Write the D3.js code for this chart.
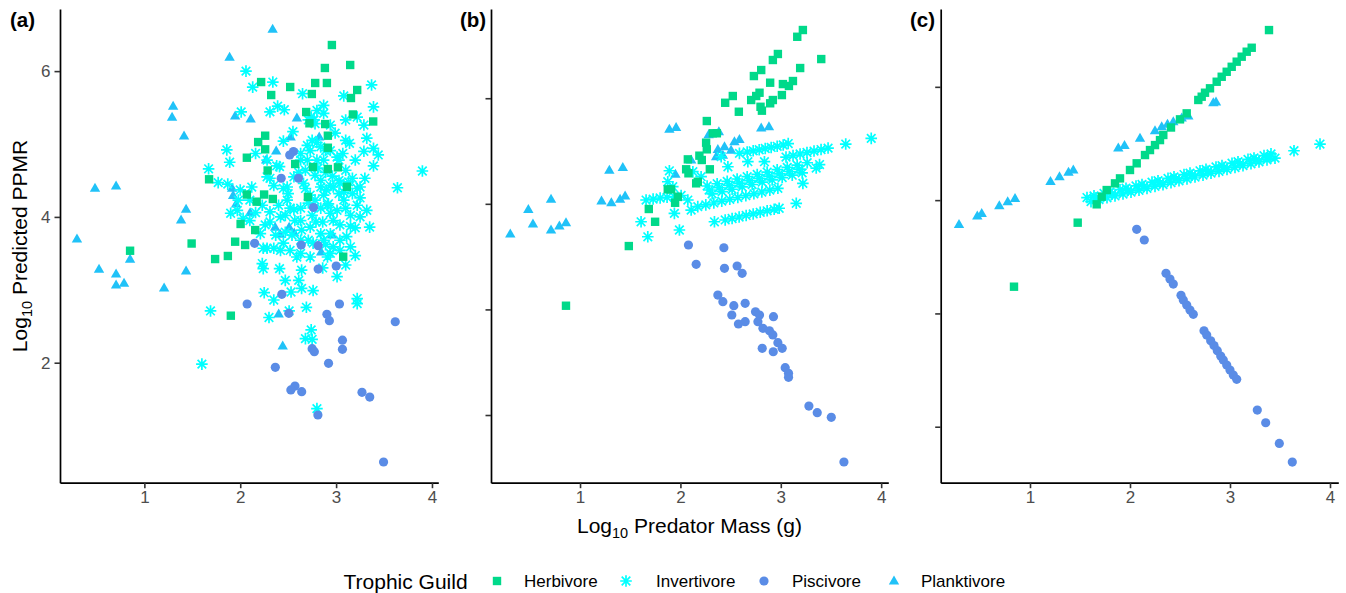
<!DOCTYPE html>
<html><head><meta charset="utf-8">
<script src="https://cdn.jsdelivr.net/npm/d3@7"></script>
<style>
body{margin:0;background:#fff;}
svg{display:block;font-family:"Liberation Sans",Arial,sans-serif;}
</style></head>
<body><svg id="chart" width="1346" height="593"></svg>
<script>
// ---------------- DATA ----------------
const guilds = ["Herbivore","Invertivore","Piscivore","Planktivore"];
const guildColors = ["#00D98A","#00FFFF","#5A8CE6","#20C2F8"];
const panelTags = ["(a)","(b)","(c)"];
const xTicks = [1,2,3,4];
const yTicksA = [2,4,6];
const yTicksBC = [1,2,3,4];

// Panel (a)
const aHerbivore = [[2.956,6.358],[2.883,6.043],[3.147,6.084],[2.218,5.850],[2.521,5.782],[2.782,5.837],[2.904,5.837],[2.323,5.672],[2.747,5.686],[3.220,5.741],[3.155,5.631],[2.688,5.439],[3.175,5.405],[3.387,5.309],[2.886,5.274],[2.722,5.284],[2.260,5.114],[2.187,5.027],[2.914,5.114],[2.260,4.927],[2.914,4.949],[2.069,4.812],[2.573,4.726],[2.286,4.637],[2.758,4.684],[2.914,4.657],[3.019,4.680],[1.675,4.516],[3.113,4.414],[2.069,4.307],[2.249,4.307],[2.340,4.246],[2.171,4.209],[2.706,4.273],[2.004,3.903],[2.156,3.820],[1.493,3.635],[1.947,3.660],[2.051,3.615],[1.738,3.422],[1.871,3.464],[3.074,3.454],[0.851,3.536],[1.902,2.645]];
const aInvertivore = [[2.06,6.00],[2.13,5.78],[2.34,5.85],[2.65,5.69],[3.08,5.66],[3.37,5.81],[2.01,5.44],[2.31,5.44],[2.39,5.52],[2.46,5.47],[2.74,5.37],[2.80,5.46],[2.87,5.53],[2.78,5.28],[3.10,5.33],[3.22,5.37],[3.29,5.26],[3.39,5.51],[2.55,5.17],[2.45,5.04],[2.70,4.98],[2.80,5.02],[2.89,4.91],[3.14,5.01],[3.29,4.90],[3.39,4.94],[3.44,4.85],[3.39,4.70],[1.86,4.92],[1.89,4.75],[2.16,4.87],[1.67,4.66],[1.77,4.47],[1.87,4.45],[2.12,4.41],[2.28,4.78],[2.38,4.70],[2.28,4.55],[2.41,4.69],[2.63,4.78],[2.70,4.78],[2.87,4.78],[3.01,4.82],[3.07,4.87],[3.90,4.63],[3.64,4.40],[2.68,4.39],[2.84,4.50],[2.94,4.43],[3.03,4.50],[3.22,4.39],[3.17,4.32],[3.03,4.32],[2.87,4.30],[2.49,4.41],[2.50,4.32],[2.10,4.23],[2.00,4.37],[1.97,4.09],[1.90,4.05],[2.31,4.07],[2.56,4.10],[2.63,4.12],[2.94,4.05],[3.01,4.09],[3.15,4.02],[3.25,4.00],[3.35,3.86],[3.15,3.59],[3.01,3.18],[3.22,2.88],[2.97,4.41],[2.84,4.41],[3.04,4.46],[2.78,4.23],[2.92,4.18],[3.25,4.41],[2.42,4.00],[2.52,4.12],[2.64,3.82],[2.73,3.86],[2.84,3.77],[2.94,3.77],[3.11,3.73],[2.97,3.59],[2.91,3.45],[2.73,3.45],[2.59,3.45],[2.45,3.64],[2.35,3.57],[2.24,3.57],[2.10,3.95],[2.03,3.98],[1.98,4.23],[2.35,4.43],[2.45,4.39],[2.56,4.55],[2.31,4.53],[2.63,4.87],[2.73,4.91],[2.84,4.96],[2.77,5.33],[2.87,5.42],[2.71,5.33],[3.03,4.78],[2.31,3.93],[2.91,4.16],[2.21,3.77],[2.28,3.57],[2.42,3.54],[2.23,3.36],[2.24,3.29],[2.41,3.29],[2.63,3.50],[2.87,3.68],[2.94,3.50],[2.64,3.27],[2.47,3.13],[2.61,3.13],[2.64,3.02],[2.76,2.99],[2.25,2.96],[2.35,2.86],[2.53,2.97],[1.69,2.71],[2.30,2.62],[2.51,2.71],[2.69,2.76],[3.22,2.81],[2.74,2.45],[2.68,2.33],[2.75,2.32],[1.60,1.98],[2.80,1.37],[2.68,4.64],[2.78,4.57],[2.89,4.61],[3.10,4.64],[3.17,4.53],[2.73,4.30],[3.08,4.23],[2.75,4.02],[2.86,3.93],[3.04,3.89],[3.20,3.85],[2.57,3.95],[2.47,3.79],[2.63,3.68],[2.76,3.64],[3.04,3.68],[3.20,3.47],[3.10,3.34],[2.86,3.30],[2.37,3.75],[2.49,4.23],[2.23,4.16],[3.10,5.05],[2.94,5.26],[3.32,5.08],[3.25,4.26],[3.32,4.09],[2.61,4.61],[2.81,4.67],[2.96,4.56],[3.13,4.48],[2.66,4.46],[2.90,4.37],[3.08,4.34],[2.71,4.19],[2.84,4.12],[3.10,4.12],[3.22,4.16],[2.63,3.95],[2.79,3.93],[2.97,3.95],[3.15,3.87],[2.54,3.75],[2.71,3.68],[2.89,3.62],[3.04,3.54],[2.52,3.54],[2.40,4.16],[2.47,4.02],[2.26,3.89],[2.16,4.06],[2.80,4.78],[2.94,4.91],[2.75,5.05],[2.99,5.15],[3.20,4.78],[3.30,4.53]];
const aPiscivore = [[2.555,4.897],[2.516,4.849],[2.427,4.530],[2.608,4.530],[2.764,4.129],[2.150,3.638],[2.636,3.615],[2.813,3.605],[2.813,3.285],[3.001,3.326],[2.434,2.938],[2.072,2.805],[3.035,2.805],[2.904,2.665],[2.930,2.576],[3.617,2.562],[3.066,2.309],[3.066,2.184],[2.750,2.192],[2.773,2.151],[2.921,1.992],[2.366,1.937],[2.571,1.680],[2.528,1.626],[2.641,1.602],[3.270,1.594],[3.351,1.529],[2.810,1.283],[3.495,0.638],[2.507,2.678]];
const aPlanktivore = [[2.338,6.577],[1.889,6.193],[1.300,5.521],[1.289,5.370],[1.414,5.110],[1.947,5.384],[2.109,5.343],[2.591,5.357],[2.526,5.096],[2.824,5.096],[2.375,4.904],[2.270,4.781],[0.485,4.396],[0.705,4.424],[1.435,4.108],[1.383,3.958],[0.297,3.697],[0.527,3.285],[0.851,3.422],[0.705,3.217],[0.705,3.066],[0.788,3.093],[1.206,3.025],[1.435,3.258],[1.915,4.396],[1.926,4.294],[1.957,4.177],[2.103,4.060],[2.364,3.861],[2.510,3.861],[2.563,3.779],[2.416,3.765],[2.844,3.519],[2.959,3.752],[2.401,2.668],[2.443,2.229]];

// Panel (b)
const bHerbivore = [[3.220,4.646],[3.164,4.582],[3.403,4.371],[2.971,4.419],[2.921,4.362],[3.193,4.286],[2.805,4.267],[2.732,4.210],[2.894,4.147],[3.021,4.134],[3.121,4.163],[3.081,4.116],[3.011,4.030],[2.522,4.021],[2.446,3.957],[2.705,3.983],[2.755,4.021],[2.788,4.052],[2.921,3.983],[2.894,3.952],[2.798,3.919],[2.812,3.882],[2.582,3.872],[2.263,3.784],[2.323,3.668],[2.363,3.668],[2.256,3.579],[2.263,3.516],[2.189,3.456],[2.213,3.415],[2.074,3.421],[2.057,3.327],[2.080,3.289],[2.293,3.327],[2.173,3.209],[2.157,3.194],[1.907,3.137],[1.874,3.137],[1.974,3.067],[1.947,3.010],[1.685,2.951],[1.748,2.830],[1.486,2.600],[0.860,2.035]];
const bInvertivore = [[2.266,3.169],[2.366,3.190],[2.466,3.213],[2.565,3.235],[2.665,3.257],[2.765,3.278],[2.864,3.301],[2.964,3.323],[3.064,3.345],[3.163,3.366],[3.263,3.389],[2.316,3.095],[2.416,3.116],[2.515,3.138],[2.615,3.161],[2.715,3.183],[2.815,3.205],[2.914,3.226],[3.014,3.249],[3.114,3.271],[3.213,3.293],[2.286,3.131],[2.385,3.152],[2.485,3.174],[2.585,3.196],[2.685,3.219],[2.785,3.241],[2.884,3.262],[2.984,3.284],[3.084,3.306],[3.183,3.329],[2.665,3.491],[2.725,3.502],[2.785,3.512],[2.845,3.524],[2.904,3.534],[2.964,3.545],[3.024,3.557],[3.074,3.571],[3.052,3.443],[3.122,3.457],[3.192,3.472],[3.261,3.486],[3.331,3.500],[3.401,3.514],[3.471,3.528],[3.647,3.566],[3.901,3.620],[2.173,2.973],[2.253,2.990],[2.333,3.008],[2.412,3.025],[2.492,3.043],[2.572,3.060],[2.652,3.077],[2.732,3.095],[2.811,3.112],[2.891,3.130],[2.971,3.147],[2.446,2.847],[2.515,2.861],[2.585,2.875],[2.655,2.890],[2.725,2.904],[2.795,2.920],[2.864,2.934],[2.934,2.948],[2.984,2.958],[1.658,3.036],[1.728,3.045],[1.798,3.055],[1.867,3.062],[1.937,3.069],[2.007,3.079],[1.890,3.313],[1.874,3.209],[1.924,3.162],[2.074,3.036],[2.107,2.941],[1.940,2.910],[1.608,2.830],[1.675,2.688],[1.990,2.752],[2.339,2.830],[3.154,3.005],[3.220,3.194],[3.386,3.372],[3.353,3.339],[2.837,3.399],[2.672,3.399],[2.473,3.351],[2.588,3.478],[2.406,3.446],[2.124,3.304],[2.206,3.257]];
const bPiscivore = [[2.080,2.610],[2.433,2.584],[2.157,2.427],[2.439,2.389],[2.565,2.411],[2.615,2.342],[2.373,2.136],[2.423,2.073],[2.532,2.035],[2.645,2.058],[2.512,1.947],[2.578,1.862],[2.645,1.884],[2.748,1.978],[2.788,1.947],[2.772,1.884],[2.927,1.931],[2.822,1.821],[2.887,1.798],[2.921,1.758],[2.815,1.632],[2.971,1.685],[3.014,1.632],[2.925,1.599],[3.044,1.448],[3.077,1.395],[3.077,1.357],[3.280,1.085],[3.363,1.022],[3.503,0.978],[3.629,0.555]];
const bPlanktivore = [[0.305,2.714],[0.485,2.948],[0.531,2.809],[0.711,3.045],[0.711,2.752],[0.794,2.790],[0.860,2.821],[1.292,3.320],[1.426,3.346],[1.214,3.027],[1.312,3.012],[1.399,3.045],[1.449,3.074],[1.950,3.282],[1.890,3.708],[1.957,3.724],[2.383,3.683],[2.281,3.656],[2.805,3.718],[2.882,3.732],[2.107,3.415],[2.373,3.516],[2.439,3.541],[2.538,3.588],[2.588,3.611],[2.356,3.446],[2.423,3.462],[2.505,3.509]];

// Panel (c)
const cHerbivore = [[0.840,2.236],[1.477,2.801],[1.667,2.963],[1.717,3.030],[1.767,3.089],[1.850,3.148],[1.900,3.192],[2.000,3.266],[2.067,3.325],[2.150,3.398],[2.200,3.442],[2.250,3.486],[2.300,3.530],[2.333,3.575],[2.410,3.641],[2.500,3.713],[2.567,3.766],[2.683,3.884],[2.717,3.913],[2.750,3.948],[2.800,3.987],[2.867,4.045],[2.917,4.089],[2.967,4.133],[3.017,4.177],[3.067,4.222],[3.117,4.266],[3.167,4.310],[3.217,4.345],[3.390,4.501]];
const cInvertivore = [[1.57,3.023],[1.64,3.038],[1.74,3.059],[1.80,3.071],[1.90,3.092],[1.96,3.105],[2.06,3.125],[2.12,3.138],[2.22,3.159],[2.28,3.171],[2.38,3.192],[2.44,3.205],[2.54,3.226],[2.60,3.238],[2.70,3.259],[2.76,3.272],[2.86,3.293],[2.92,3.305],[3.02,3.326],[3.08,3.339],[3.18,3.360],[3.24,3.372],[3.34,3.393],[3.41,3.408],[1.61,2.987],[1.69,3.004],[1.77,3.021],[1.85,3.037],[1.93,3.054],[2.01,3.071],[2.09,3.087],[2.17,3.104],[2.25,3.121],[2.33,3.137],[2.41,3.154],[2.49,3.171],[2.57,3.188],[2.65,3.204],[2.73,3.221],[2.81,3.238],[2.89,3.254],[2.97,3.271],[3.05,3.288],[3.13,3.305],[3.21,3.321],[3.29,3.338],[3.37,3.355],[3.45,3.371],[1.66,3.020],[1.82,3.053],[1.98,3.087],[2.14,3.120],[2.30,3.153],[2.46,3.187],[2.62,3.220],[2.78,3.254],[2.94,3.287],[3.10,3.321],[3.26,3.354],[3.40,3.383],[3.64,3.436],[3.90,3.495]];
const cPiscivore = [[2.067,2.742],[2.143,2.648],[2.360,2.354],[2.400,2.304],[2.433,2.259],[2.510,2.160],[2.533,2.118],[2.567,2.074],[2.600,2.030],[2.633,1.992],[2.740,1.847],[2.767,1.809],[2.807,1.759],[2.840,1.717],[2.873,1.671],[2.907,1.624],[2.933,1.589],[2.967,1.545],[3.000,1.500],[3.033,1.456],[3.067,1.418],[3.273,1.147],[3.357,1.035],[3.493,0.853],[3.623,0.688]];
const cPlanktivore = [[0.290,2.786],[0.473,2.860],[0.517,2.884],[0.693,2.951],[0.777,2.986],[0.850,3.016],[1.205,3.166],[1.295,3.207],[1.385,3.248],[1.433,3.266],[1.883,3.460],[1.945,3.484],[2.100,3.548],[2.250,3.614],[2.317,3.648],[2.375,3.670],[2.433,3.692],[2.517,3.725],[2.583,3.744],[2.833,3.860],[2.860,3.866]];

// ---------------- LAYOUT ----------------
const svg = d3.select("#chart");
const FONT = '"Liberation Sans", Arial, sans-serif';

const panels = [
  {tag:panelTags[0], tagX:10, xDom:[0.12,4.066], xR:[60,438.3], yDom:[0.354,6.852], yTicks:yTicksA, labels:true,
   series:[aHerbivore,aInvertivore,aPiscivore,aPlanktivore]},
  {tag:panelTags[1], tagX:460, xDom:[0.113,4.071], xR:[491,888.3], yDom:[0.359,4.845], yTicks:yTicksBC, labels:false,
   series:[bHerbivore,bInvertivore,bPiscivore,bPlanktivore]},
  {tag:panelTags[2], tagX:910, xDom:[0.107,4.083], xR:[940.7,1338.3], yDom:[0.506,4.687], yTicks:yTicksBC, labels:false,
   series:[cHerbivore,cInvertivore,cPiscivore,cPlanktivore]}
];
const yR = [482.7, 9];

function drawShape(g, type, cx, cy, color){
  if(type===0){ // square
    const s=8.4;
    g.append("rect").attr("x",cx-s/2).attr("y",cy-s/2).attr("width",s).attr("height",s).attr("fill",color);
  } else if(type===1){ // asterisk
    const r=5.8, d=r*0.74;
    const p=`M${cx-r},${cy}L${cx+r},${cy}M${cx},${cy-r}L${cx},${cy+r}M${cx-d},${cy-d}L${cx+d},${cy+d}M${cx-d},${cy+d}L${cx+d},${cy-d}`;
    g.append("path").attr("d",p).attr("stroke",color).attr("stroke-width",1.7).attr("fill","none");
  } else if(type===2){ // circle
    g.append("circle").attr("cx",cx).attr("cy",cy).attr("r",4.6).attr("fill",color);
  } else { // triangle
    const w=10.4, h=9;
    g.append("path").attr("d",`M${cx},${cy-h*0.6}L${cx+w/2},${cy+h*0.4}L${cx-w/2},${cy+h*0.4}Z`).attr("fill",color);
  }
}

const drawOrder = [3,1,0,2];

panels.forEach(p=>{
  const x = d3.scaleLinear().domain(p.xDom).range(p.xR);
  const y = d3.scaleLinear().domain(p.yDom).range(yR);
  const g = svg.append("g");
  const pts = g.append("g");
  drawOrder.forEach(k=>{
    p.series[k].forEach(d=> drawShape(pts, k, x(d[0]), y(d[1]), guildColors[k]));
  });
  const xa = g.append("g").attr("transform",`translate(0,${yR[0]})`)
    .call(d3.axisBottom(x).tickValues(xTicks).tickFormat(d3.format("d")).tickSize(5.5).tickSizeOuter(0).tickPadding(3));
  const ya = g.append("g").attr("transform",`translate(${p.xR[0]},0)`)
    .call(d3.axisLeft(y).tickValues(p.yTicks).tickFormat(p.labels?d3.format("d"):"").tickSize(5.5).tickSizeOuter(0).tickPadding(4));
  [xa,ya].forEach(a=>{
    a.select(".domain").attr("stroke","#000").attr("stroke-width",1.7);
    a.selectAll(".tick line").attr("stroke","#333").attr("stroke-width",1.6);
    a.selectAll(".tick text").attr("fill","#4D4D4D").style("font-size","17px").style("font-family",FONT);
  });
  svg.append("text").attr("x",p.tagX).attr("y",27).text(p.tag)
    .style("font-family",FONT).style("font-size","20.5px").style("font-weight","bold").attr("fill","#000");
});

const xt = svg.append("text").attr("x",689.5).attr("y",533).attr("text-anchor","middle")
  .style("font-family",FONT).style("font-size","21px").attr("fill","#000");
xt.append("tspan").text("Log");
xt.append("tspan").text("10").style("font-size","14.5px").attr("dy",5);
xt.append("tspan").text(" Predator Mass (g)").attr("dy",-5);

const yt = svg.append("text").attr("transform","translate(27,246) rotate(-90)").attr("text-anchor","middle")
  .style("font-family",FONT).style("font-size","21px").attr("fill","#000");
yt.append("tspan").text("Log");
yt.append("tspan").text("10").style("font-size","14.5px").attr("dy",5);
yt.append("tspan").text(" Predicted PPMR").attr("dy",-5);

const lg = svg.append("g");
lg.append("text").attr("x",343.5).attr("y",588.5).text("Trophic Guild")
  .style("font-family",FONT).style("font-size","21px").attr("fill","#000");
const keyX = [497,626,764,894];
const labX = [524,656,792,921];
guilds.forEach((name,k)=>{
  drawShape(lg, k, keyX[k], 581, guildColors[k]);
  lg.append("text").attr("x",labX[k]).attr("y",587).text(name)
    .style("font-family",FONT).style("font-size","17px").attr("fill","#000");
});
</script>
</body></html>
